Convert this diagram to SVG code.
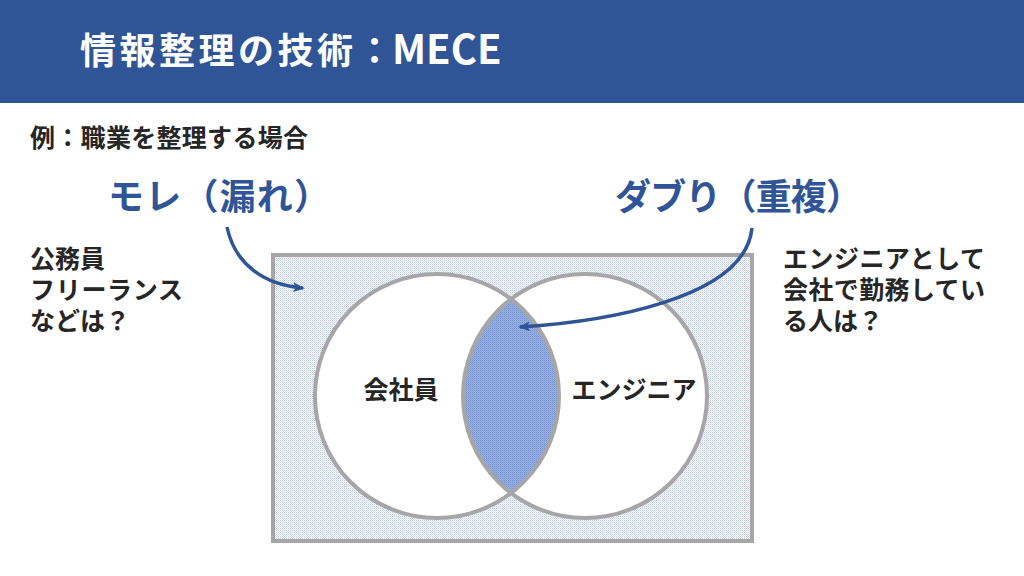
<svg xmlns="http://www.w3.org/2000/svg" width="1024" height="576" viewBox="0 0 1024 576">
<style>
.t{font-family:"Noto Sans CJK JP","Noto Sans",sans-serif;font-weight:bold;}
.dark{fill:#262626;font-size:25px;}
.blue{fill:#2f5597;font-size:36px;}
.ln{fill:none;stroke:#a6a6a6;stroke-width:4;}
.frame{fill:url(#pbg);stroke:#a6a6a6;stroke-width:4;}
.arr{fill:none;stroke:#2f5597;stroke-width:3.5;marker-end:url(#ah);}
</style>
<defs>
<pattern id="pbg" width="2" height="2" patternUnits="userSpaceOnUse">
<rect width="2" height="2" fill="#f7f8fb"/>
<rect x="0" y="0" width="1" height="1" fill="#c3cfe6"/>
<rect x="1" y="1" width="1" height="1" fill="#dde3ef"/>
</pattern>
<pattern id="plens" width="2" height="2" patternUnits="userSpaceOnUse">
<rect width="2" height="2" fill="#9ab2e2"/>
<rect x="0" y="0" width="1" height="1" fill="#7593d2"/>
<rect x="1" y="1" width="1" height="1" fill="#86a1da"/>
</pattern>
<marker id="ah" markerWidth="12" markerHeight="10" refX="10" refY="5" orient="auto" markerUnits="userSpaceOnUse">
<path d="M0,0 L12,5 L0,10 L3,5 Z" fill="#2f5597"/>
</marker>
</defs>
<rect width="1024" height="576" fill="#ffffff"/>
<g id="header">
<rect x="0" y="0" width="1024" height="103" fill="#2f5597"/>
<text class="t" x="80" y="64" font-size="36" fill="#ffffff" letter-spacing="3.5">情報整理の技術：<tspan x="392" font-size="40" letter-spacing="0">MECE</tspan></text>
</g>
<g id="subtitle"><text class="t dark" x="30" y="147" textLength="278" lengthAdjust="spacing">例：職業を整理する場合</text></g>
<g id="label-more"><text class="t blue" x="108" y="210" textLength="222" lengthAdjust="spacing">モレ（漏れ）</text></g>
<g id="label-daburi"><text class="t blue" x="615" y="210" textLength="247" lengthAdjust="spacing">ダブり（重複）</text></g>
<g id="note-left"><text class="t dark" x="30" y="268">公務員</text><text class="t dark" x="30" y="299" textLength="153" lengthAdjust="spacing">フリーランス</text><text class="t dark" x="30" y="330">などは？</text></g>
<g id="note-right"><text class="t dark" x="783" y="268" textLength="202" lengthAdjust="spacing">エンジニアとして</text><text class="t dark" x="783" y="299" textLength="202" lengthAdjust="spacing">会社で勤務してい</text><text class="t dark" x="783" y="330">る人は？</text></g>
<g id="venn">
<rect x="273" y="255" width="479" height="286" class="frame"/>
<circle cx="437" cy="396" r="122" fill="#ffffff"/>
<circle cx="585" cy="396" r="122" fill="#ffffff"/>
<path d="M511,299 A122,122 0 0 1 511,493 A122,122 0 0 1 511,299 Z" fill="url(#plens)"/>
<circle cx="437" cy="396" r="122" class="ln"/>
<circle cx="585" cy="396" r="122" class="ln"/>
</g>
<g id="node-kaishain"><text class="t dark" x="401" y="399" text-anchor="middle">会社員</text></g>
<g id="node-engineer"><text class="t dark" x="634" y="399" text-anchor="middle">エンジニア</text></g>
<g id="connectors">
<path class="arr" d="M227,227 C235,265 265,285 303,288"/>
<path class="arr" d="M752,228 C745,300 600,322 520,327"/>
</g>
</svg>
